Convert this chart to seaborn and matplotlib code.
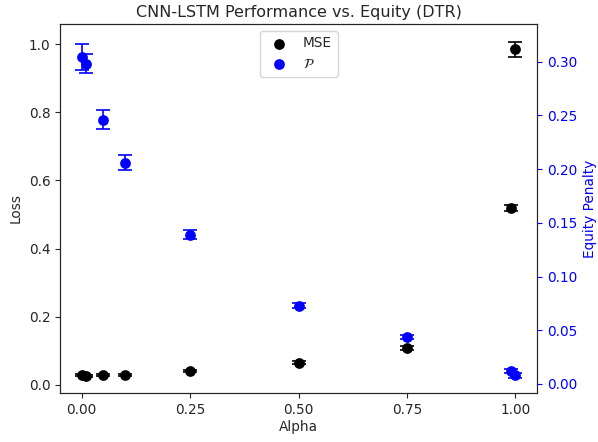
import matplotlib
matplotlib.use("Agg")
import matplotlib.pyplot as plt
import seaborn as sns
import pandas as pd

sns.set_style("ticks")
plt.rcParams['font.family'] = ['DejaVu Sans']
plt.rcParams['font.size'] = 9.8

# alpha values
alpha = [0.0, 0.01, 0.05, 0.1, 0.25, 0.5, 0.75, 0.99, 1.0]
# MSE (left axis) with error
mse = [0.029, 0.027, 0.028, 0.029, 0.041, 0.065, 0.108, 0.519, 0.985]
mse_err = [0.004, 0.003, 0.003, 0.003, 0.003, 0.004, 0.005, 0.010, 0.022]
# equity penalty (right axis) with error
pen = [0.304, 0.298, 0.246, 0.206, 0.139, 0.073, 0.044, 0.012, 0.008]
pen_err = [0.012, 0.009, 0.009, 0.007, 0.004, 0.002, 0.002, 0.002, 0.002]

df = pd.DataFrame({"alpha": alpha, "mse": mse, "mse_err": mse_err,
                   "pen": pen, "pen_err": pen_err})

fig, ax = plt.subplots(figsize=(5.98, 4.42), dpi=100)
ax2 = ax.twinx()

ax.errorbar(df["alpha"], df["mse"], yerr=df["mse_err"], fmt="none",
            ecolor="black", capsize=5, elinewidth=1.2, capthick=1.2)
sns.scatterplot(data=df, x="alpha", y="mse", ax=ax, color="black",
                s=60, edgecolor="black", linewidth=0, label="MSE", legend=False)

ax2.errorbar(df["alpha"], df["pen"], yerr=df["pen_err"], fmt="none",
             ecolor="blue", capsize=5, elinewidth=1.2, capthick=1.2)
sns.scatterplot(data=df, x="alpha", y="pen", ax=ax2, color="blue",
                s=60, edgecolor="blue", linewidth=0, label=r"$\mathcal{P}$", legend=False)

ax.set_xlabel("Alpha", labelpad=2)
ax.set_ylabel("Loss")
ax2.set_ylabel("Equity Penalty", color="blue")
ax2.tick_params(axis="y", colors="blue")
ax.set_title("CNN-LSTM Performance vs. Equity (DTR)", fontsize=11.5, pad=5)
ax.set_xticks([0.0, 0.25, 0.5, 0.75, 1.0])
ax.set_xlim(-0.05, 1.05)
ax.set_ylim(-0.0235, 1.059)
ax2.set_ylim(-0.0084, 0.335)

h1, l1 = ax.get_legend_handles_labels()
h2, l2 = ax2.get_legend_handles_labels()
ax.legend(h1 + h2, ["MSE", r"$\mathcal{P}$"], loc="upper center")

fig.subplots_adjust(left=60/598, right=537/598, top=1-24/442, bottom=1-393/442)
fig.savefig("out.png", dpi=100)
